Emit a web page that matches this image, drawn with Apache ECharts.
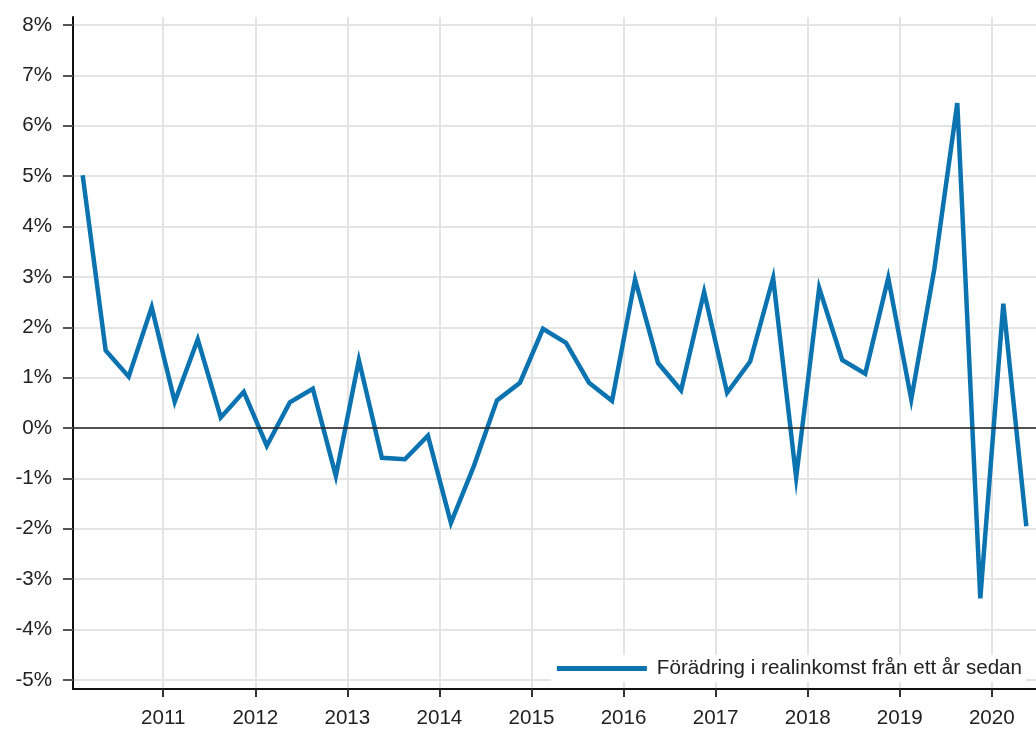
<!DOCTYPE html>
<html>
<head>
<meta charset="utf-8">
<script src="https://cdn.jsdelivr.net/npm/echarts@6/dist/echarts.min.js"></script>
<style>
html, body { margin: 0; padding: 0; background: #fff; }
#main { width: 1036px; height: 731px; }
</style>
</head>
<body>
<div id="main"></div>
<script>
// quarterly data, 2010Q1 - 2020Q2
var startYear = 2010;
var seriesName = 'Förädring i realinkomst från ett år sedan';
var realIncomeChange = [
  5.02, 1.54, 1.02, 2.4,
  0.52, 1.76, 0.21, 0.72,
  -0.35, 0.51, 0.78, -0.95,
  1.35, -0.59, -0.62, -0.15,
  -1.88, -0.75, 0.55, 0.9,
  1.97, 1.69, 0.9, 0.54,
  2.95, 1.29, 0.75, 2.7,
  0.7, 1.32, 2.98, -0.98,
  2.78, 1.35, 1.08, 2.98,
  0.57, 3.15, 6.45, -3.38,
  2.47, -1.95
];
var yearTicks = [2011, 2012, 2013, 2014, 2015, 2016, 2017, 2018, 2019, 2020];
var yTicks = [-5, -4, -3, -2, -1, 0, 1, 2, 3, 4, 5, 6, 7, 8];

// place each quarter in the middle of its quarter
var points = [];
for (var i = 0; i < realIncomeChange.length; i++) {
  var yr = startYear + Math.floor(i / 4);
  var q = i % 4;
  points.push([yr + (q + 0.5) / 4, realIncomeChange[i]]);
}

var font = '"Liberation Sans", Arial, Helvetica, sans-serif';
var lineColor = '#0a73b0';

var chart = echarts.init(document.getElementById('main'), null, { renderer: 'canvas' });
var option = {
  animation: false,
  backgroundColor: '#fff',
  color: [lineColor],
  textStyle: { fontFamily: font },
  grid: { left: 73, right: 0, top: 17, bottom: 42, containLabel: false },
  legend: {
    right: 10,
    top: 655,
    padding: [3, 4, 3, 6],
    backgroundColor: '#fff',
    icon: 'rect',
    itemWidth: 90,
    itemHeight: 5,
    textStyle: { fontSize: 20.6, color: '#222', fontFamily: font, padding: [0, 0, 0, 5] },
    data: [seriesName]
  },
  xAxis: {
    type: 'value',
    min: 2010.02,
    max: 2020.48,
    axisLine: { show: true, onZero: false, lineStyle: { color: '#111', width: 2 } },
    axisTick: { show: true, length: 8, customValues: yearTicks, lineStyle: { color: '#333', width: 2 } },
    axisLabel: { customValues: yearTicks, margin: 19, fontSize: 20.6, color: '#222', fontFamily: font,
      formatter: function (v) { return String(Math.round(v)); } },
    splitLine: { show: true, lineStyle: { color: '#e4e4e4', width: 2 } }
  },
  yAxis: {
    type: 'value',
    min: -5.18,
    max: 8.16,
    axisLine: { show: true, lineStyle: { color: '#111', width: 2 } },
    axisTick: { show: true, length: 10, customValues: yTicks, lineStyle: { color: '#555', width: 2 } },
    axisLabel: { customValues: yTicks, margin: 21, fontSize: 20.6, color: '#222', fontFamily: font,
      formatter: function (v) { return Math.round(v) + '%'; } },
    splitLine: { show: true, lineStyle: { color: '#e4e4e4', width: 2 } }
  },
  series: [{
    name: seriesName,
    type: 'line',
    data: points,
    showSymbol: false,
    symbol: 'none',
    lineStyle: { color: lineColor, width: 4.5, join: 'miter', miterLimit: 10, cap: 'butt' },
    itemStyle: { color: lineColor },
    markLine: {
      silent: true,
      symbol: 'none',
      label: { show: false },
      lineStyle: { color: '#222', width: 1.5, type: 'solid' },
      data: [{ yAxis: 0 }]
    },
    z: 3
  }]
};
chart.setOption(option);
</script>
</body>
</html>
